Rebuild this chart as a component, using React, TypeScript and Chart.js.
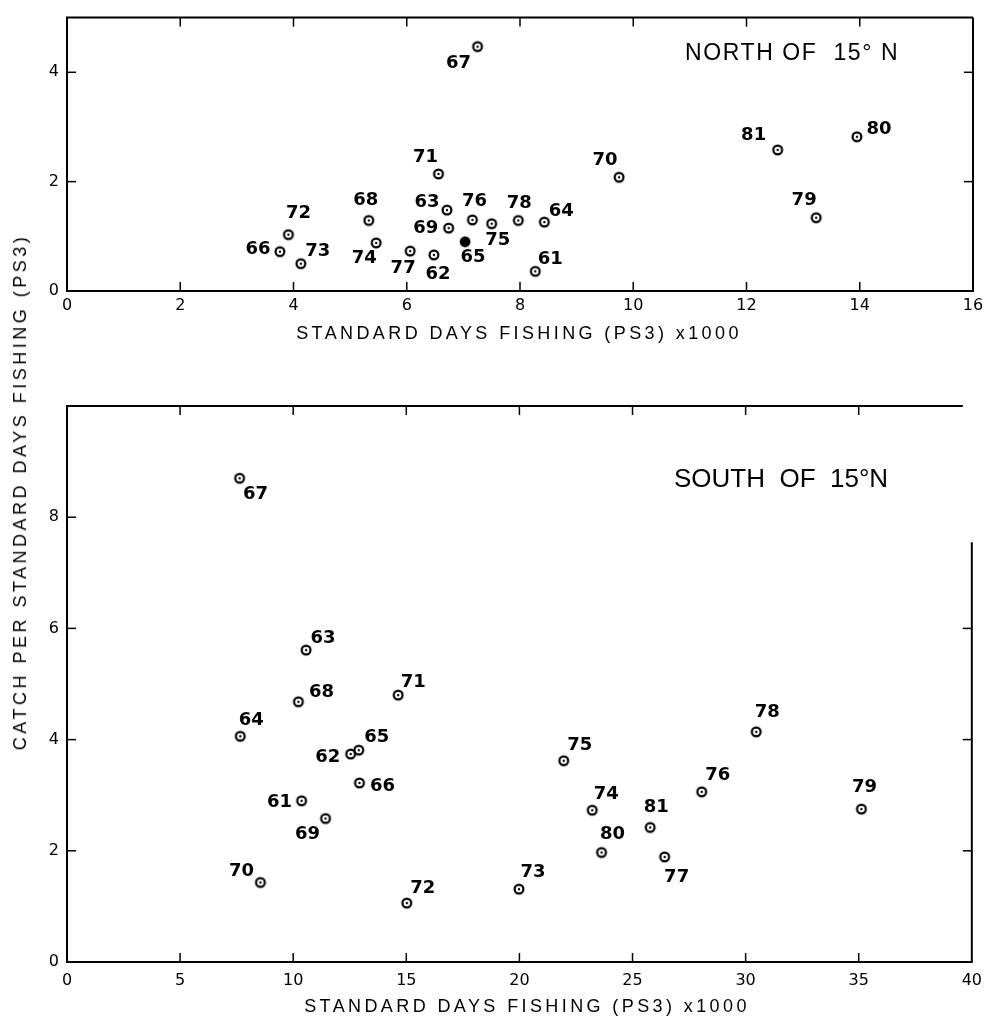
import React, { useEffect, useRef } from 'react';
import { Chart, registerables } from 'chart.js';

Chart.register(...registerables);

const FONT = "'Liberation Sans', Arial, Helvetica, sans-serif";
const NUM_FONT = "'DejaVu Sans', 'Liberation Sans', sans-serif";

// ---------- NORTH OF 15° N ----------
const northYears = [61, 62, 63, 64, 65, 66, 67, 68, 69, 70, 71, 72, 73, 74, 75, 76, 77, 78, 79, 80, 81];
const northDays = [8.27, 6.48, 6.71, 8.43, 7.03, 3.76, 7.25, 5.33, 6.74, 9.75, 6.56, 3.91, 4.13, 5.46, 7.5, 7.16, 6.06, 7.97, 13.23, 13.95, 12.55];
const northCatch = [0.36, 0.66, 1.48, 1.26, 0.9, 0.72, 4.47, 1.29, 1.15, 2.08, 2.14, 1.03, 0.5, 0.88, 1.23, 1.3, 0.73, 1.29, 1.34, 2.82, 2.58];
const northFilledYears = [65];
const northXTicks = [0, 2, 4, 6, 8, 10, 12, 14, 16];
const northYTicks = [0, 2, 4];
// label placement relative to its point (px)
const northLabelOffsets = [
  [15, -12], [4, 19], [-20, -8], [17, -11], [8, 16], [-22, -2], [-19, 17], [-3, -20], [-23, 0], [-14, -17],
  [-13, -17], [10, -21], [17, -12], [-12, 15], [6, 17], [2, -19], [-7, 17], [1, -17], [-12, -17], [22, -7], [-24, -15],
];

// ---------- SOUTH OF 15° N ----------
const southYears = [61, 62, 63, 64, 65, 66, 67, 68, 69, 70, 71, 72, 73, 74, 75, 76, 77, 78, 79, 80, 81];
const southDays = [10.37, 12.54, 10.57, 7.66, 12.9, 12.93, 7.63, 10.23, 11.43, 8.55, 14.64, 15.02, 19.98, 23.22, 21.96, 28.06, 26.42, 30.47, 35.12, 23.63, 25.78];
const southCatch = [2.9, 3.74, 5.61, 4.06, 3.81, 3.22, 8.7, 4.68, 2.58, 1.43, 4.8, 1.06, 1.31, 2.73, 3.62, 3.06, 1.89, 4.14, 2.75, 1.97, 2.42];
const southFilledYears: number[] = [];
const southXTicks = [0, 5, 10, 15, 20, 25, 30, 35, 40];
const southYTicks = [0, 2, 4, 6, 8];
const southLabelOffsets = [
  [-22, 2], [-23, 3], [17, -12], [11, -16], [18, -13], [23, 3], [16, 16], [23, -9], [-18, 16], [-19, -11],
  [15, -13], [16, -15], [14, -17], [14, -16], [16, -15], [16, -17], [12, 20], [11, -19], [3, -22], [11, -18], [6, -20],
];

const xTitle = 'STANDARD DAYS FISHING (PS3) x1000';
const yTitle = 'CATCH PER STANDARD DAYS FISHING (PS3)';
const northTitle = 'NORTH OF\u00A0 15° N';
const southTitle = 'SOUTH\u00A0 OF\u00A0 15°N';

function makeMarker(filled: boolean): HTMLCanvasElement {
  const c = document.createElement('canvas');
  c.width = 14;
  c.height = 14;
  const g = c.getContext('2d')!;
  g.fillStyle = '#000';
  g.strokeStyle = '#000';
  if (filled) {
    g.beginPath();
    g.arc(7, 7, 5.4, 0, Math.PI * 2);
    g.fill();
  } else {
    g.lineWidth = 2.2;
    g.beginPath();
    g.arc(7, 7, 4.4, 0, Math.PI * 2);
    g.stroke();
    g.beginPath();
    g.arc(7, 7, 1.2, 0, Math.PI * 2);
    g.fill();
  }
  return c;
}

const framePlugin = {
  id: 'frame',
  afterDraw(chart: any, _args: any, opts: any) {
    const { ctx, chartArea: a, scales } = chart;
    const xs = scales.x;
    const ys = scales.y;
    const rightTop = opts.rightFrom != null ? ys.getPixelForValue(opts.rightFrom) : a.top;
    const topRight = opts.topTo != null ? xs.getPixelForValue(opts.topTo) : a.right;
    ctx.save();
    ctx.strokeStyle = '#000';
    ctx.lineWidth = 2;
    ctx.beginPath();
    ctx.moveTo(topRight, a.top);
    ctx.lineTo(a.left, a.top);
    ctx.lineTo(a.left, a.bottom);
    ctx.lineTo(a.right, a.bottom);
    ctx.lineTo(a.right, rightTop);
    ctx.stroke();
    ctx.lineWidth = 1.5;
    const L = opts.tickLength;
    const seg = (x1: number, y1: number, x2: number, y2: number) => {
      ctx.beginPath();
      ctx.moveTo(x1, y1);
      ctx.lineTo(x2, y2);
      ctx.stroke();
    };
    xs.ticks.forEach((t: any) => {
      if (t.value <= xs.min || t.value >= xs.max) return;
      const px = xs.getPixelForValue(t.value);
      seg(px, a.bottom, px, a.bottom - L);
      if (px <= topRight) seg(px, a.top, px, a.top + L);
    });
    ys.ticks.forEach((t: any) => {
      if (t.value <= ys.min || t.value >= ys.max) return;
      const py = ys.getPixelForValue(t.value);
      seg(a.left, py, a.left + L, py);
      if (py >= rightTop) seg(a.right, py, a.right - L, py);
    });
    ctx.restore();
  },
};

const labelPlugin = {
  id: 'yearLabels',
  afterDatasetsDraw(chart: any, _args: any, opts: any) {
    const { ctx } = chart;
    const meta = chart.getDatasetMeta(0);
    ctx.save();
    ctx.font = `bold 18px ${NUM_FONT}`;
    ctx.fillStyle = '#000';
    ctx.textAlign = 'center';
    ctx.textBaseline = 'middle';
    meta.data.forEach((el: any, i: number) => {
      const [dx, dy] = opts.offsets[i];
      ctx.fillText(String(opts.labels[i]), el.x + dx, el.y + dy);
    });
    ctx.restore();
  },
};

type PanelProps = {
  years: number[];
  days: number[];
  catches: number[];
  filled: number[];
  offsets: number[][];
  xTicks: number[];
  yTicks: number[];
  xMax: number;
  yMax: number;
  width: number;
  height: number;
  padTop: number;
  padRight: number;
  yAxisWidth: number;
  xAxisHeight: number;
  xLabelPad: number;
  rightFrom?: number;
  topTo?: number;
  top: number;
};

function Panel(p: PanelProps) {
  const ref = useRef<HTMLCanvasElement>(null);
  useEffect(() => {
    const ring = makeMarker(false);
    const dot = makeMarker(true);
    const tickFont = { family: NUM_FONT, size: 16 };
    const chart = new Chart(ref.current!, {
      type: 'scatter',
      data: {
        datasets: [
          {
            data: p.days.map((d, i) => ({ x: d, y: p.catches[i] })),
            pointStyle: (c: any) => (p.filled.includes(p.years[c.dataIndex]) ? dot : ring),
            pointRadius: 6,
            pointHoverRadius: 6,
          } as any,
        ],
      },
      options: {
        responsive: false,
        maintainAspectRatio: false,
        animation: false,
        events: [],
        layout: { padding: { top: p.padTop, right: p.padRight, left: 0, bottom: 0 } },
        plugins: {
          legend: { display: false },
          tooltip: { enabled: false },
          frame: { tickLength: 9, rightFrom: p.rightFrom, topTo: p.topTo },
          yearLabels: { labels: p.years, offsets: p.offsets },
        } as any,
        scales: {
          x: {
            type: 'linear',
            min: 0,
            max: p.xMax,
            afterBuildTicks: (s: any) => {
              s.ticks = p.xTicks.map((v) => ({ value: v }));
            },
            afterFit: (s: any) => {
              s.height = p.xAxisHeight;
            },
            grid: { display: false, drawTicks: false },
            border: { display: false },
            ticks: {
              autoSkip: false,
              maxRotation: 0,
              padding: p.xLabelPad,
              color: '#000',
              font: tickFont,
              callback: (v: any) => String(v),
            },
          },
          y: {
            type: 'linear',
            min: 0,
            max: p.yMax,
            afterBuildTicks: (s: any) => {
              s.ticks = p.yTicks.map((v) => ({ value: v }));
            },
            afterFit: (s: any) => {
              s.width = p.yAxisWidth;
            },
            grid: { display: false, drawTicks: false },
            border: { display: false },
            ticks: {
              autoSkip: false,
              padding: 8,
              color: '#000',
              font: tickFont,
              callback: (v: any) => String(v),
            },
          },
        },
      },
      plugins: [framePlugin, labelPlugin],
    });
    return () => chart.destroy();
  }, []);
  return (
    <canvas
      ref={ref}
      width={p.width}
      height={p.height}
      style={{ position: 'absolute', left: 0, top: p.top, width: p.width, height: p.height }}
    />
  );
}

const textBase: React.CSSProperties = {
  position: 'absolute',
  fontFamily: FONT,
  color: '#000',
  whiteSpace: 'nowrap',
  lineHeight: 1,
};

export default function App() {
  return (
    <div
      style={{
        position: 'absolute',
        left: 0,
        top: 0,
        width: 991,
        height: 1020,
        background: '#fff',
        overflow: 'hidden',
      }}
    >
      <Panel
        years={northYears}
        days={northDays}
        catches={northCatch}
        filled={northFilledYears}
        offsets={northLabelOffsets}
        xTicks={northXTicks}
        yTicks={northYTicks}
        xMax={16}
        yMax={5}
        width={991}
        height={350}
        padTop={10}
        padRight={18}
        yAxisWidth={67}
        xAxisHeight={59}
        xLabelPad={5}
        top={0}
      />
      <Panel
        years={southYears}
        days={southDays}
        catches={southCatch}
        filled={southFilledYears}
        offsets={southLabelOffsets}
        xTicks={southXTicks}
        yTicks={southYTicks}
        xMax={40}
        yMax={10}
        width={991}
        height={640}
        padTop={46}
        padRight={18}
        yAxisWidth={67}
        xAxisHeight={38}
        xLabelPad={9}
        rightFrom={7.55}
        topTo={39.6}
        top={360}
      />
      <div style={{ ...textBase, left: 685, top: 52, fontSize: 23, letterSpacing: '1.6px', transform: 'translateY(-50%)' }}>
        {northTitle}
      </div>
      <div style={{ ...textBase, left: 674, top: 478, fontSize: 26, transform: 'translateY(-50%)' }}>{southTitle}</div>
      <div
        style={{ ...textBase, left: 519, top: 333, fontSize: 18, letterSpacing: '3.4px', transform: 'translate(-50%,-50%)' }}
      >
        {xTitle}
      </div>
      <div
        style={{ ...textBase, left: 527, top: 1006, fontSize: 18, letterSpacing: '3.4px', transform: 'translate(-50%,-50%)' }}
      >
        {xTitle}
      </div>
      <div
        style={{
          ...textBase,
          left: 20,
          top: 492,
          fontSize: 18,
          letterSpacing: '3.5px',
          transform: 'translate(-50%,-50%) rotate(-90deg)',
        }}
      >
        {yTitle}
      </div>
    </div>
  );
}
